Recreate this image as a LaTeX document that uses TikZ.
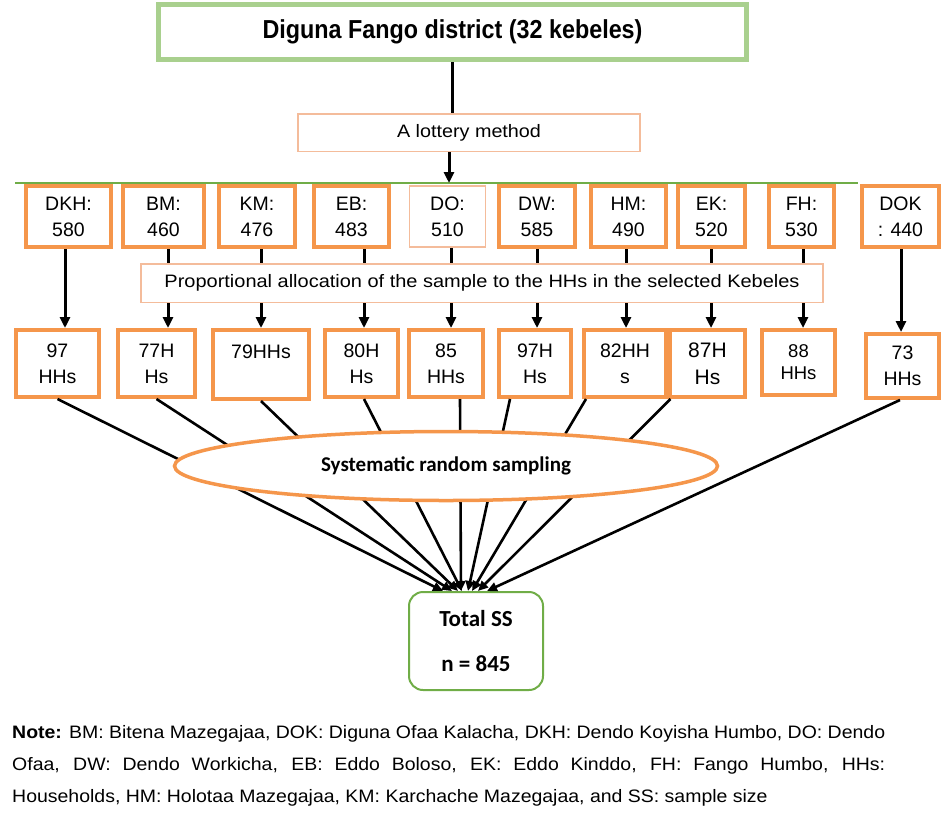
\documentclass[tikz,border=0pt]{standalone}
\usepackage{fontspec}
\usepackage{graphicx}
\setmainfont{Liberation Sans}
\newfontfamily\cali{Carlito}
\usetikzlibrary{arrows.meta,shapes.geometric}
\definecolor{ora}{RGB}{245,150,75}
\definecolor{lora}{RGB}{244,188,155}
\definecolor{lgreen}{RGB}{169,208,142}
\definecolor{dgreen}{RGB}{112,173,71}
\newcommand\kfont{\fontsize{19.5}{26}\selectfont}
\newcommand\notefont{\fontsize{18}{20}\selectfont}
\newsavebox\noteA
\newlength\noteW
\begin{document}
\sbox\noteA{\notefont\textbf{Note:} BM: Bitena Mazegajaa, DOK: Diguna Ofaa Kalacha, DKH: Dendo Koyisha Humbo, DO: Dendo}%
\setlength\noteW{\wd\noteA}%
\pgfmathsetmacro\nsc{873/\noteW}%
\begin{tikzpicture}[x=1pt,y=-1pt,
  kbox/.style={draw=ora,line width=4pt,fill=white,inner sep=0pt,align=center,font=\kfont},
  thinbox/.style={draw=lora,line width=1.5pt,fill=white,inner sep=0pt,align=center},
  dobox/.style={thinbox,font=\kfont},
  arr/.style={line width=3pt,-{Triangle[length=11pt,width=10pt]}},
  darr/.style={line width=2.6pt,-{Triangle[length=10pt,width=9pt]}},
  plain/.style={line width=3.5pt},
]
\useasboundingbox (0,0) rectangle (944,812);

% top
\node[draw=lgreen,line width=5pt,fill=white,minimum width=588pt,minimum height=55pt,inner sep=0pt] (top) at (452.5,32)
  {\resizebox{380pt}{\height}{\fontsize{26}{28}\selectfont\bfseries Diguna Fango district (32 kebeles)}};
\node[thinbox,minimum width=342pt,minimum height=37.5pt] (lot) at (469,132.5)
  {\resizebox{144pt}{\height}{\fontsize{18}{20}\selectfont A lottery method}};
\draw[plain] (top.south) -- (top.south |- lot.north);

% kebele boxes
\foreach \cx/\w/\st/\t [count=\i] in {
  68.5/85/kbox/{DKH:\\580},
  163.5/81/kbox/{BM:\\460},
  257/76/kbox/{KM:\\476},
  351.5/75/kbox/{EB:\\483},
  447.5/76/dobox/{DO:\\510},
  537/76/kbox/{DW:\\585},
  628.5/75/kbox/{HM:\\490},
  711.5/67/kbox/{EK:\\520},
  801.5/65/kbox/{FH:\\530},
  900.5/77/kbox/{DOK\\: 440}}
  {\node[\st,minimum width=\w pt,minimum height=61pt] (k\i) at (\cx,216.5) {\t};}

% green line
\coordinate (gL) at (15,183);
\coordinate (gR) at (858,183);
\coordinate (gA) at (449,183);
\draw[dgreen,line width=1.5pt] (gL) -- (gR);
\draw[arr] (lot.south -| gA) -- (gA);

% result boxes
\foreach \cx/\cy/\w/\h/\f/\t [count=\i] in {
  57.5/363.5/83/67/{\kfont}/{97\\HHs},
  156.5/363.5/77/67/{\kfont}/{77H\\Hs},
  261/364.5/96/69/{\kfont}/{79HHs\\\mbox{}},
  361.5/363.5/73/67/{\kfont}/{80H\\Hs},
  446/363.5/74/67/{\kfont}/{85\\HHs},
  535/363.5/72/67/{\kfont}/{97H\\Hs},
  625/363.5/82/67/{\kfont}/{82HH\\s},
  707.5/363.5/75/67/{\fontsize{21}{27}\selectfont}/{87H\\Hs},
  798.5/362.5/73/65/{\fontsize{18.5}{22}\selectfont}/{88\\HHs},
  902.5/366/73/64/{\kfont}/{73\\HHs}}
  {\node[kbox,font=\f,minimum width=\w pt,minimum height=\h pt] (r\i) at (\cx,\cy) {\t};}

% arrows kebele -> result
\foreach \i/\dx in {1/-3.5,2/4.5,3/4,4/12.5,5/3.5,6/0,7/-2.5,8/-0.5,9/1.5,10/0.5}
  {\draw[arr] ([xshift=\dx pt]k\i.south) -- ([xshift=\dx pt]k\i.south |- r\i.north);}

\node[thinbox,minimum width=682pt,minimum height=38.5pt] (prop) at (482,283)
  {\resizebox{635pt}{\height}{\fontsize{18}{22}\selectfont Proportional allocation of the sample to the HHs in the selected Kebeles}};

% total
\node[draw=dgreen,line width=2pt,rounded corners=14pt,fill=white,minimum width=134pt,minimum height=98pt,
  align=center,inner sep=0pt,font=\cali\bfseries\fontsize{23}{45}\selectfont] (tot) at (476,641) {Total SS\\n = 845};

% diagonal arrows
\foreach \i/\sx/\ex in {1/0/-33,2/0/-24,3/0/-18,4/2.5/-14,5/14/-15,6/-25/-8,7/-39/-4,8/-37/2,10/-2.5/11}
  {\draw[darr] ([xshift=\sx pt]r\i.south) -- ([xshift=\ex pt]tot.north);}

\node[ellipse,draw=ora,line width=3.5pt,fill=white,minimum width=543pt,minimum height=69pt,inner sep=0pt] (sys) at (446,466)
  {\cali\bfseries\fontsize{21}{24}\selectfont Systematic random sampling};

% note
\node[anchor=base west,inner sep=0pt] (n1) at (12,738) {\scalebox{\nsc}[1]{\usebox\noteA}};
\node[anchor=base west,inner sep=0pt] (n2) at (12,770) {\scalebox{\nsc}[1]{\makebox[\noteW][s]{\notefont Ofaa, DW: Dendo Workicha, EB: Eddo Boloso, EK: Eddo Kinddo, FH: Fango Humbo, HHs:}}};
\node[anchor=base west,inner sep=0pt] (n3) at (12,802) {\scalebox{\nsc}[1]{\notefont Households, HM: Holotaa Mazegajaa, KM: Karchache Mazegajaa, and SS: sample size}};
\end{tikzpicture}
\end{document}
